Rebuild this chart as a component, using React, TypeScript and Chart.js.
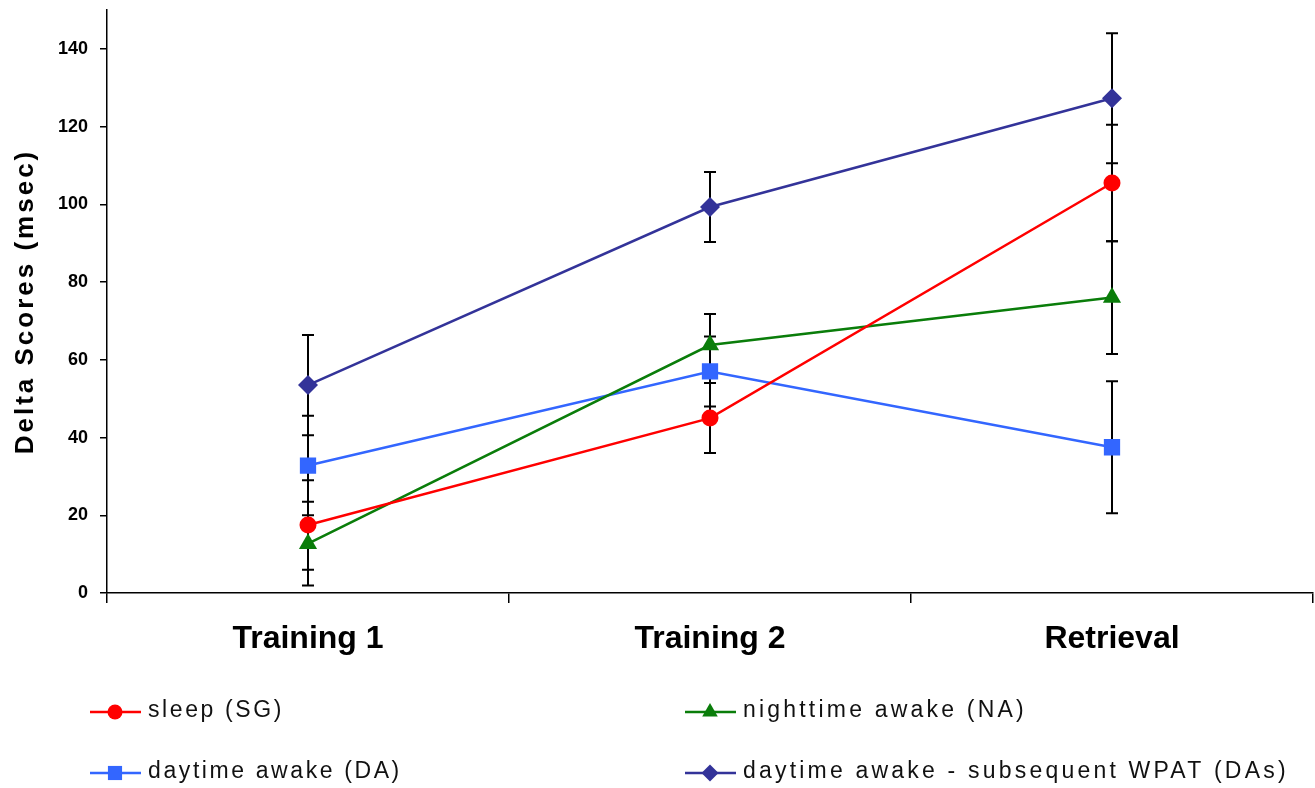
import React, { useEffect, useRef } from 'react';
import { Chart, registerables } from 'chart.js';

Chart.register(...registerables);

const categories = ['Training 1', 'Training 2', 'Retrieval'];
const yTicks = [0, 20, 40, 60, 80, 100, 120, 140];
const yTitle = 'Delta Scores (msec)';

const sleepSG = [17.5, 45, 105.5];
const sleepSGErr = [11.5, 9, 15];
const nightNA = [12.7, 63.8, 76];
const nightNAErr = [10.8, 8, 14.5];
const dayDA = [32.8, 57, 37.5];
const dayDAErr = [12.8, 9, 17];
const dayDAs = [53.5, 99.3, 127.3];
const dayDAsErr = [12.9, 9, 16.7];

const seriesLabels = [
  'sleep (SG)',
  'nighttime awake (NA)',
  'daytime awake (DA)',
  'daytime awake - subsequent WPAT (DAs)',
];

const FONT = '"Liberation Sans", Arial, sans-serif';

function drawMarker(ctx: CanvasRenderingContext2D, style: string, x: number, y: number, r: number, color: string) {
  ctx.save();
  ctx.fillStyle = color;
  ctx.beginPath();
  if (style === 'circle') {
    ctx.arc(x, y, r, 0, Math.PI * 2);
  } else if (style === 'rect') {
    const s = r * Math.SQRT1_2;
    ctx.rect(x - s, y - s, 2 * s, 2 * s);
  } else if (style === 'triangle') {
    for (let k = 0; k < 3; k++) {
      const a = (k * 2 * Math.PI) / 3;
      const px = x + Math.sin(a) * r;
      const py = y - Math.cos(a) * r;
      if (k === 0) ctx.moveTo(px, py);
      else ctx.lineTo(px, py);
    }
    ctx.closePath();
  } else {
    ctx.moveTo(x - r, y);
    ctx.lineTo(x, y - r);
    ctx.lineTo(x + r, y);
    ctx.lineTo(x, y + r);
    ctx.closePath();
  }
  ctx.fill();
  ctx.restore();
}

const errorBarsPlugin = {
  id: 'errorBars',
  beforeDatasetsDraw(chart: any) {
    const ctx = chart.ctx;
    const xs = chart.scales.x;
    const ys = chart.scales.y;
    ctx.save();
    ctx.strokeStyle = '#000';
    ctx.lineWidth = 2;
    chart.data.datasets.forEach((ds: any) => {
      ds.data.forEach((v: number, j: number) => {
        const e = ds.errors[j];
        const x = xs.getPixelForValue(j);
        const yTop = ys.getPixelForValue(v + e);
        const yBot = ys.getPixelForValue(v - e);
        ctx.beginPath();
        ctx.moveTo(x, yTop);
        ctx.lineTo(x, yBot);
        ctx.moveTo(x - 6, yTop);
        ctx.lineTo(x + 6, yTop);
        ctx.moveTo(x - 6, yBot);
        ctx.lineTo(x + 6, yBot);
        ctx.stroke();
      });
    });
    ctx.restore();
  },
};

const decorPlugin = {
  id: 'decor',
  afterDraw(chart: any) {
    const ctx = chart.ctx as CanvasRenderingContext2D;
    const area = chart.chartArea;
    // Y axis title
    ctx.save();
    ctx.translate(26, (area.top + area.bottom) / 2);
    ctx.rotate(-Math.PI / 2);
    ctx.fillStyle = '#000';
    ctx.font = `bold 26px ${FONT}`;
    (ctx as any).letterSpacing = '3px';
    ctx.textAlign = 'center';
    ctx.textBaseline = 'middle';
    ctx.fillText(yTitle, 0, 0);
    ctx.restore();

    // Legend
    const cols = [90, 685];
    const rows = [712, 773];
    chart.data.datasets.forEach((ds: any, i: number) => {
      const x0 = cols[i % 2];
      const y0 = rows[Math.floor(i / 2)];
      ctx.save();
      ctx.strokeStyle = ds.borderColor;
      ctx.lineWidth = 2.5;
      ctx.beginPath();
      ctx.moveTo(x0, y0);
      ctx.lineTo(x0 + 51, y0);
      ctx.stroke();
      drawMarker(ctx, ds.pointStyle, x0 + 25, y0, ds.legendRadius, ds.borderColor);
      ctx.fillStyle = '#111';
      ctx.font = `23px ${FONT}`;
      (ctx as any).letterSpacing = i % 2 === 0 ? '2.6px' : '3.2px';
      ctx.textAlign = 'left';
      ctx.textBaseline = 'middle';
      ctx.fillText(ds.label, x0 + 58, y0 - 1);
      ctx.restore();
    });
  },
};

export default function App() {
  const ref = useRef<HTMLCanvasElement | null>(null);

  useEffect(() => {
    if (!ref.current) return;
    const mk = (label: string, data: number[], errors: number[], color: string, style: string, r: number, lr: number) => ({
      label,
      data,
      errors,
      borderColor: color,
      backgroundColor: color,
      pointBackgroundColor: color,
      pointBorderColor: color,
      pointBorderWidth: 0,
      pointStyle: style,
      pointRadius: r,
      pointHoverRadius: r,
      legendRadius: lr,
      borderWidth: 2.5,
      tension: 0,
      fill: false,
    });
    const chart = new Chart(ref.current, {
      type: 'line',
      data: {
        labels: categories,
        datasets: [
          mk(seriesLabels[0], sleepSG, sleepSGErr, '#ff0000', 'circle', 8.5, 7.5),
          mk(seriesLabels[1], nightNA, nightNAErr, '#0a7d0a', 'triangle', 10.5, 9),
          mk(seriesLabels[2], dayDA, dayDAErr, '#3366ff', 'rect', 11.5, 10),
          mk(seriesLabels[3], dayDAs, dayDAsErr, '#333399', 'rectRot', 10, 8.5),
        ] as any,
      },
      options: {
        animation: false,
        responsive: true,
        maintainAspectRatio: false,
        layout: { autoPadding: false, padding: { top: 10, right: 2, left: 0, bottom: 0 } },
        plugins: {
          legend: { display: false },
          tooltip: { enabled: false },
        },
        scales: {
          x: {
            type: 'category',
            offset: true,
            afterFit: (s: any) => {
              s.height = 195;
              s.paddingLeft = 0;
              s.paddingRight = 0;
            },
            border: { display: true, color: '#000', width: 1.5 },
            grid: {
              display: true,
              offset: true,
              drawOnChartArea: false,
              drawTicks: true,
              tickLength: 10,
              color: '#000',
              lineWidth: 1.5,
            },
            ticks: {
              color: '#000',
              padding: 17,
              font: { family: FONT, size: 32, weight: 'bold' },
            },
          },
          y: {
            min: 0,
            max: 150,
            afterBuildTicks: (s: any) => {
              s.ticks = yTicks.map((v) => ({ value: v }));
            },
            afterFit: (s: any) => {
              s.width = 107;
              s.paddingTop = 0;
              s.paddingBottom = 0;
            },
            border: { display: true, color: '#000', width: 1.5 },
            grid: {
              display: true,
              drawOnChartArea: false,
              drawTicks: true,
              tickLength: 7,
              color: '#000',
              lineWidth: 1.5,
            },
            ticks: {
              color: '#000',
              padding: 12,
              font: { family: FONT, size: 18, weight: 'bold' },
            },
          },
        },
      } as any,
      plugins: [errorBarsPlugin, decorPlugin],
    });
    return () => chart.destroy();
  }, []);

  return (
    <div style={{ position: 'fixed', left: 0, top: 0, width: 1315, height: 788, background: '#fff' }}>
      <canvas ref={ref} />
    </div>
  );
}
